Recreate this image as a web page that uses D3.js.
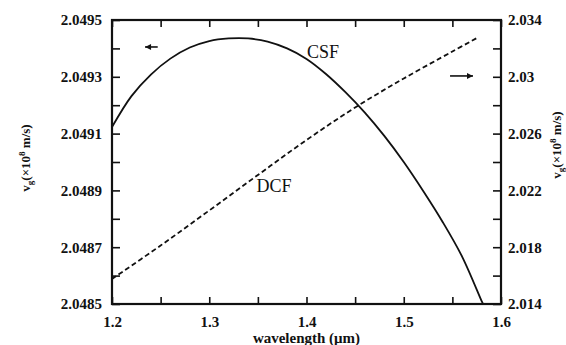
<!DOCTYPE html>
<html>
<head>
<meta charset="utf-8">
<script src="https://cdn.jsdelivr.net/npm/d3@7"></script>
<style>
  body{margin:0;background:#fff;}
  text{font-family:"Liberation Serif","DejaVu Serif",serif;fill:#111;}
</style>
</head>
<body>
<svg id="chart"></svg>
<script>
let width = 566, height = 345;

// wavelength (um) samples
const csfLambda = [1.20,1.22,1.24,1.26,1.28,1.30,1.32,1.34,1.36,1.38,1.40,1.42,1.44,1.46,1.48,1.50,1.52,1.54,1.56,1.58,1.5815];
// CSF group velocity, left axis (x10^8 m/s)
const csfVg = [2.049123,2.049232,2.049308,2.049364,2.049403,2.049426,2.049435,2.049435,2.049424,2.049400,
               2.049363,2.049310,2.049246,2.049174,2.049092,2.049000,2.048898,2.048789,2.048667,2.048511,2.0485];
const dcfLambda = [1.20,1.25,1.30,1.35,1.40,1.45,1.50,1.55,1.5753];
// DCF group velocity, right axis (x10^8 m/s)
const dcfVg = [2.015761,2.018120,2.020585,2.023085,2.025549,2.027838,2.029880,2.031782,2.032732];

const xTicks = [1.2,1.25,1.3,1.35,1.4,1.45,1.5,1.55,1.6];
const xLabels = [1.2,1.3,1.4,1.5,1.6];
const leftTicks = [2.0485,2.0486,2.0487,2.0488,2.0489,2.0490,2.0491,2.0492,2.0493,2.0494,2.0495];
const leftLabels = [2.0485,2.0487,2.0489,2.0491,2.0493,2.0495];
const rightTicks = [2.014,2.016,2.018,2.020,2.022,2.024,2.026,2.028,2.030,2.032,2.034];
const rightLabels = [2.014,2.018,2.022,2.026,2.030,2.034];

const x = d3.scaleLinear().domain([1.2,1.6]).range([112,501]);
const yL = d3.scaleLinear().domain([2.0485,2.0495]).range([304,20]);
const yR = d3.scaleLinear().domain([2.014,2.034]).range([304,20]);

const svg = d3.select('#chart').attr('width',width).attr('height',height);

const near = (arr,v)=>arr.some(a=>Math.abs(a-v)<1e-7);
const tickFont = g=>g.selectAll('text')
  .style('font-family','"Liberation Serif",serif')
  .style('font-size','15px').style('font-weight','bold').attr('fill','#111');
const tickStyle = g=>{
  g.select('.domain').remove();
  g.selectAll('line').attr('stroke','#111').attr('stroke-width',1.6);
};

// bottom
svg.append('g').attr('transform','translate(0,304)')
  .call(d3.axisBottom(x).tickValues(xTicks).tickSizeInner(-7).tickSizeOuter(0).tickPadding(12)
    .tickFormat(d=>near(xLabels,d)?d3.format('.1f')(d):''))
  .call(tickStyle).call(tickFont);
// top
svg.append('g').attr('transform','translate(0,20)')
  .call(d3.axisTop(x).tickValues(xTicks).tickSizeInner(-7).tickSizeOuter(0).tickFormat(''))
  .call(tickStyle);
// left
svg.append('g').attr('transform','translate(112,0)')
  .call(d3.axisLeft(yL).tickValues(leftTicks).tickSizeInner(-8).tickSizeOuter(0).tickPadding(10)
    .tickFormat(d=>near(leftLabels,d)?d3.format('.4f')(d):''))
  .call(tickStyle).call(tickFont);
// right
svg.append('g').attr('transform','translate(501,0)')
  .call(d3.axisRight(yR).tickValues(rightTicks).tickSizeInner(-8).tickSizeOuter(0).tickPadding(7)
    .tickFormat(d=>near(rightLabels,d)?d3.format('.3~f')(d):''))
  .call(tickStyle).call(tickFont);

// frame
svg.append('rect')
  .attr('x',x(1.2)).attr('y',yL(2.0495))
  .attr('width',x(1.6)-x(1.2)).attr('height',yL(2.0485)-yL(2.0495))
  .attr('fill','none').attr('stroke','#111').attr('stroke-width',2.2);

// curves
svg.append('path')
  .datum(d3.zip(csfLambda,csfVg))
  .attr('fill','none').attr('stroke','#111').attr('stroke-width',1.8)
  .attr('d',d3.line().x(d=>x(d[0])).y(d=>yL(d[1])).curve(d3.curveCatmullRom));
svg.append('path')
  .datum(d3.zip(dcfLambda,dcfVg))
  .attr('fill','none').attr('stroke','#111').attr('stroke-width',1.8)
  .attr('stroke-dasharray','5,3')
  .attr('d',d3.line().x(d=>x(d[0])).y(d=>yR(d[1])).curve(d3.curveCatmullRom));

// curve labels
svg.append('text').attr('x',x(1.417)).attr('y',yL(2.049387)).attr('dy','0.35em')
  .attr('text-anchor','middle').style('font-size','18px').text('CSF');
svg.append('text').attr('x',x(1.3666)).attr('y',yR(2.02231)).attr('dy','0.35em')
  .attr('text-anchor','middle').style('font-size','18px').text('DCF');

// axis arrows
const arrow = (x1,y1,x2,y2)=>{
  svg.append('line').attr('x1',x1).attr('y1',y1).attr('x2',x2).attr('y2',y2)
    .attr('stroke','#111').attr('stroke-width',1.6);
  const dir = Math.sign(x2-x1);
  svg.append('path')
    .attr('d',`M${x2},${y2} L${x2-dir*6},${y2-3} L${x2-dir*6},${y2+3} Z`).attr('fill','#111');
};
arrow(x(1.247),yL(2.049405),x(1.234),yL(2.049405));
arrow(x(1.5476),yR(2.03006),x(1.5712),yR(2.03006));

// axis titles
svg.append('text').attr('x',x(1.4)).attr('y',338).attr('dy','0.35em')
  .attr('text-anchor','middle').style('font-size','15px').style('font-weight','bold')
  .text('wavelength (\u03bcm)');

const yTitle = (tx,ty)=>{
  const t = svg.append('text').attr('transform',`translate(${tx},${ty}) rotate(-90)`)
    .attr('text-anchor','middle').attr('dy','0.35em')
    .style('font-size','13px').style('font-weight','bold');
  t.append('tspan').text('v');
  t.append('tspan').attr('dy','3').style('font-size','9px').text('g');
  t.append('tspan').attr('dy','-3').text('(\u00d710');
  t.append('tspan').attr('dy','-5').style('font-size','9px').text('8');
  t.append('tspan').attr('dy','5').text(' m/s)');
};
yTitle(25,158);
yTitle(556,145);
</script>
</body>
</html>
